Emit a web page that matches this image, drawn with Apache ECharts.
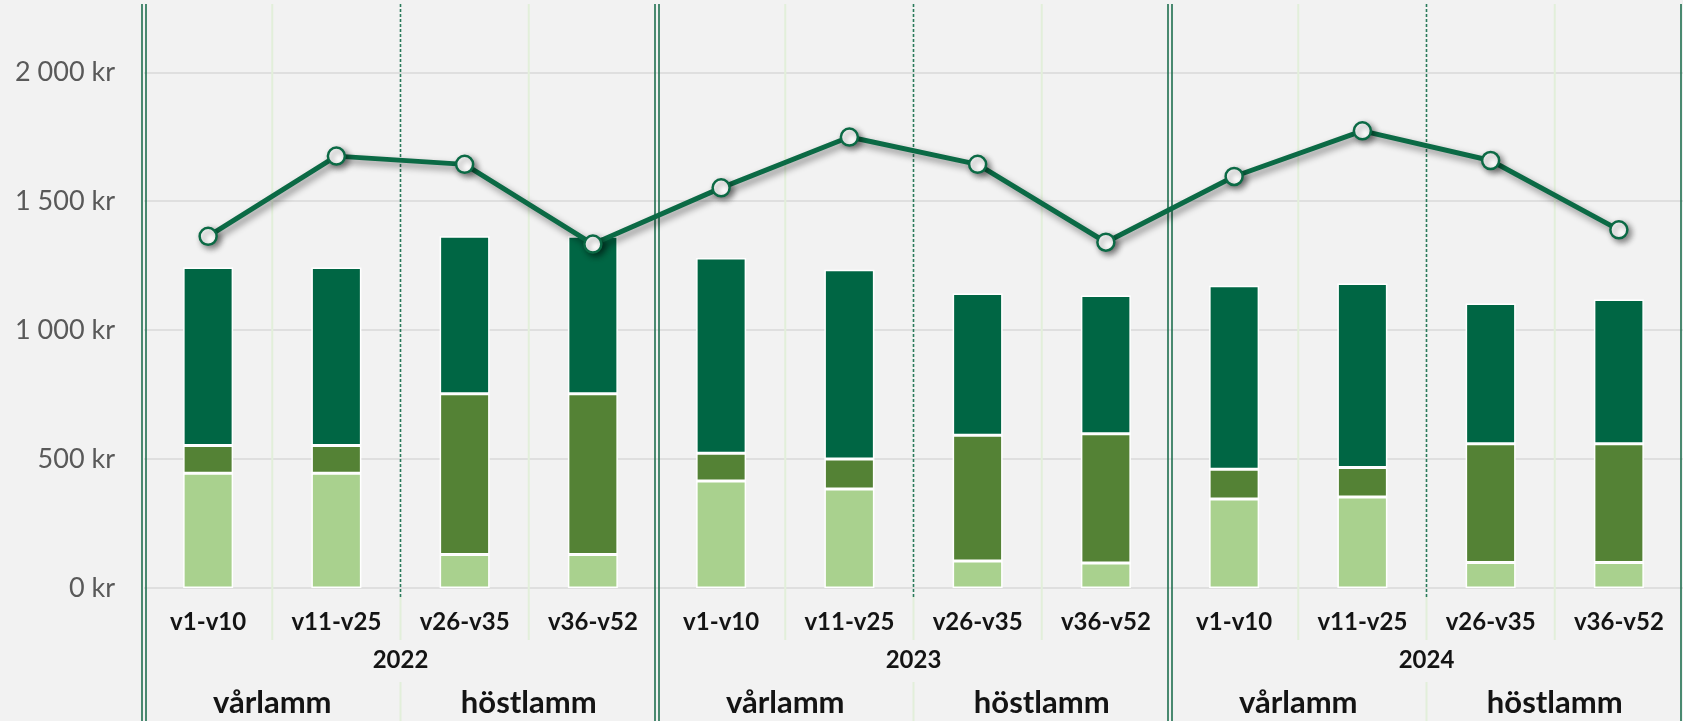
<!DOCTYPE html>
<html>
<head>
<meta charset="utf-8">
<script src="https://cdn.jsdelivr.net/npm/echarts@6/dist/echarts.min.js"></script>
<style>
    html, body { margin: 0; padding: 0; background: #f2f2f2; }
    #chart { width: 1683px; height: 721px; }
</style>
</head>
<body>
<div id="chart"></div>
<script>
// data (kr)
var years = ['2022', '2023', '2024'];
var periods = ['v1-v10', 'v11-v25', 'v26-v35', 'v36-v52'];
var seasons = ['vårlamm', 'höstlamm'];

var lightPart = [445, 445, 130, 130, 415, 384, 105, 97, 345, 353, 99, 99];
var midPart = [108, 108, 623, 623, 108, 116, 487, 501, 116, 114, 460, 460];
var darkPart = [690, 690, 611, 611, 757, 734, 550, 536, 711, 714, 544, 560];
var linePoints = [1364, 1675, 1643, 1334, 1552, 1749, 1643, 1341, 1596, 1773, 1658, 1389];

var yTicks = [0, 500, 1000, 1500, 2000];

// unique category keys, label shows the part after the space
var categories = [];
var seasonCats = [];
years.forEach(y => {
    periods.forEach(p => categories.push(y + ' ' + p));
    seasons.forEach(s => seasonCats.push(y + ' ' + s));
});

var font = 'Lato, "Noto Sans", sans-serif';

function krLabel(v) {
    if (yTicks.indexOf(v) < 0) return '';
    if (v < 1000) return v + ' kr';
    var rest = String(v % 1000).padStart(3, '0');
    return Math.floor(v / 1000) + ' ' + rest + ' kr';
}

var chart = echarts.init(document.getElementById('chart'));

var option = {
    backgroundColor: '#f2f2f2',
    animation: false,
    grid: {
        left: 144,
        top: 4,
        width: 1543,
        height: 584
    },
    xAxis: [{
        type: 'category',
        data: categories,
        position: 'bottom',
        axisLine: { show: false },
        axisTick: { show: false },
        axisLabel: {
            margin: 22,
            interval: 0,
            fontFamily: font,
            fontWeight: 'bold',
            fontSize: 24,
            color: '#141414',
            formatter: v => v.split(' ')[1]
        }
    }, {
        type: 'category',
        data: years,
        position: 'bottom',
        axisLine: { show: false },
        axisTick: { show: false },
        axisLabel: {
            margin: 60,
            interval: 0,
            fontFamily: font,
            fontWeight: 'bold',
            fontSize: 24,
            color: '#141414'
        }
    }, {
        type: 'category',
        data: seasonCats,
        position: 'bottom',
        axisLine: { show: false },
        axisTick: { show: false },
        axisLabel: {
            margin: 99,
            interval: 0,
            fontFamily: font,
            fontWeight: 'bold',
            fontSize: 31,
            color: '#141414',
            formatter: v => v.split(' ')[1]
        }
    }],
    yAxis: {
        type: 'value',
        min: 0,
        max: 2265,
        interval: 500,
        axisLine: { show: false },
        axisTick: { show: false },
        axisLabel: {
            margin: 29,
            fontFamily: font,
            fontSize: 27,
            color: '#595959',
            showMaxLabel: false,
            formatter: krLabel
        },
        splitLine: {
            showMaxLine: false,
            lineStyle: { color: '#d9d9d9', width: 1.5 }
        }
    },
    series: [{
        name: 'light',
        type: 'bar',
        stack: 'total',
        barWidth: 50,
        data: lightPart,
        itemStyle: { color: '#a9d18e', borderColor: '#ffffff', borderWidth: 1.5 }
    }, {
        name: 'mid',
        type: 'bar',
        stack: 'total',
        barWidth: 50,
        data: midPart,
        itemStyle: { color: '#548235', borderColor: '#ffffff', borderWidth: 1.5 }
    }, {
        name: 'dark',
        type: 'bar',
        stack: 'total',
        barWidth: 50,
        data: darkPart,
        itemStyle: { color: '#006644', borderColor: '#ffffff', borderWidth: 1.5 }
    }, {
        name: 'line',
        type: 'line',
        data: linePoints,
        z: 5,
        symbol: 'circle',
        symbolSize: 17,
        lineStyle: {
            color: '#0b6a45',
            width: 5,
            shadowColor: 'rgba(0,0,0,0.45)',
            shadowBlur: 7,
            shadowOffsetX: 3,
            shadowOffsetY: 4
        },
        itemStyle: {
            color: '#ffffff',
            borderColor: '#0b6a45',
            borderWidth: 2.5,
            shadowColor: 'rgba(0,0,0,0.45)',
            shadowBlur: 6,
            shadowOffsetX: 3,
            shadowOffsetY: 3
        }
    }]
};
chart.setOption(option);

// separators between categories, years and seasons
var cx = i => chart.convertToPixel({ xAxisIndex: 0 }, i);
var step = cx(1) - cx(0);
var edge = i => cx(0) + (i - 0.5) * step;
var y0 = chart.convertToPixel({ yAxisIndex: 0 }, 0);
var yTop = chart.convertToPixel({ yAxisIndex: 0 }, 2265);

var lines = [];
function vline(x, ya, yb, color, width, dash) {
    lines.push({
        type: 'line',
        z: 1,
        silent: true,
        shape: { x1: x, y1: ya, x2: x, y2: yb },
        style: { stroke: color, lineWidth: width, lineDash: dash || null }
    });
}
for (var i = 0; i <= categories.length; i++) {
    var x = edge(i);
    if (i % 4 === 0) {
        vline(x - 2, yTop, 721, '#1f6e4f', 1.6);
        vline(x + 2, yTop, 721, '#1f6e4f', 1.6);
    } else if (i % 4 === 2) {
        vline(x, yTop, y0 + 9, '#2a7a5a', 1.6, [3, 2]);
        vline(x, y0 + 9, y0 + 52, '#e2efda', 2);
        vline(x, y0 + 94, 721, '#e2efda', 2);
    } else {
        vline(x, yTop, y0 + 52, '#e2efda', 2);
    }
}
chart.setOption({ graphic: { elements: lines } });
</script>
</body>
</html>
